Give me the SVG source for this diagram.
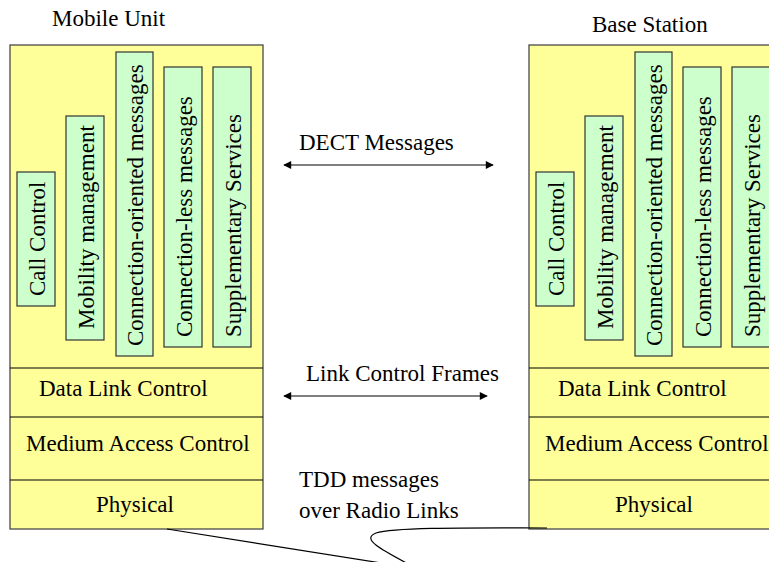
<svg xmlns="http://www.w3.org/2000/svg" width="769" height="562" viewBox="0 0 769 562" font-family="'Liberation Serif', 'Times New Roman', serif" font-size="23">
  <style>
    .stack { fill: #FFFF99; stroke: #4a4a4a; stroke-width: 1.3; }
    .layer { fill: none; stroke: #000; stroke-width: 1.2; }
    .msg { fill: #CCFFCC; stroke: #333; stroke-width: 1.2; }
    .link { fill: none; stroke: #555; stroke-width: 1.6; }
    .radio { fill: none; stroke: #000; stroke-width: 1.2; }
  </style>
  <defs>
    <marker id="head" viewBox="0 0 10 10" refX="9" refY="5" markerWidth="9" markerHeight="8" markerUnits="userSpaceOnUse" orient="auto-start-reverse">
      <path d="M0,0 L10,5 L0,10 Z" fill="#000"/>
    </marker>
    <!-- one protocol stack; placed twice -->
    <g id="stack">
      <rect class="stack" x="0" y="0" width="253" height="484"/>
      <line class="layer" x1="0" y1="323" x2="253" y2="323"/>
      <line class="layer" x1="0" y1="372" x2="253" y2="372"/>
      <line class="layer" x1="0" y1="435" x2="253" y2="435"/>
      <rect class="msg" x="7" y="127" width="38" height="134"/>
      <rect class="msg" x="56" y="71" width="38" height="224"/>
      <rect class="msg" x="106" y="7" width="37" height="304"/>
      <rect class="msg" x="154" y="22" width="38" height="280"/>
      <rect class="msg" x="203" y="22" width="38" height="280"/>
      <text transform="translate(35,251) rotate(-90)">Call Control</text>
      <text transform="translate(84,284) rotate(-90)">Mobility management</text>
      <text transform="translate(133,301) rotate(-90)">Connection-oriented messages</text>
      <text transform="translate(182,292) rotate(-90)">Connection-less messages</text>
      <text transform="translate(231,292) rotate(-90)">Supplementary Services</text>
      <text x="29" y="351">Data Link Control</text>
      <text x="16" y="406">Medium Access Control</text>
      <text x="86" y="467">Physical</text>
    </g>
  </defs>

  <g id="mobile-unit">
    <text x="52" y="26">Mobile Unit</text>
    <use href="#stack" x="10" y="45"/>
  </g>

  <g id="base-station">
    <text x="592" y="32">Base Station</text>
    <use href="#stack" x="529" y="45"/>
  </g>

  <g id="connectors">
    <line class="link" x1="284" y1="165" x2="493" y2="165" marker-start="url(#head)" marker-end="url(#head)"/>
    <text x="299" y="150">DECT Messages</text>
    <line class="link" x1="284" y1="396" x2="487" y2="396" marker-start="url(#head)" marker-end="url(#head)"/>
    <text x="306" y="381">Link Control Frames</text>
    <text x="299" y="487">TDD messages</text>
    <text x="299" y="518">over Radio Links</text>
    <!-- radio link bolt between the physical layers -->
    <path class="radio" d="M167,529 L400,566"/>
    <path class="radio" d="M547,528 C480,528 395,527 376,533 C361,539 380,549 412,566"/>
  </g>
</svg>
